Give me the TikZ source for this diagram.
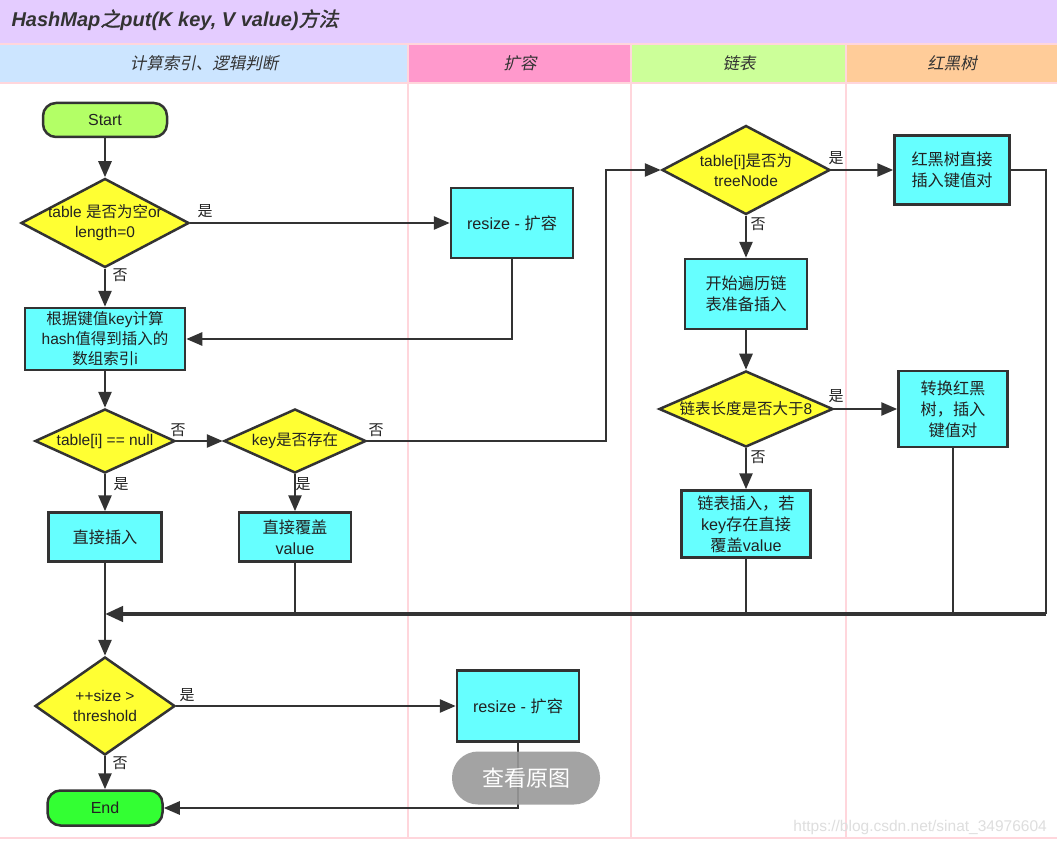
\documentclass[tikz,border=0pt]{standalone}
\usepackage{fontspec}
\usetikzlibrary{shapes.geometric,arrows.meta}
\setmainfont{Liberation Sans}
\newfontfamily\cjk{Noto Sans CJK SC}[BoldFont=*,BoldFeatures={FakeBold=1.5},ItalicFont=*,ItalicFeatures={FakeSlant=0.2},BoldItalicFont=*,BoldItalicFeatures={FakeSlant=0.2,FakeBold=1.5}]
\XeTeXinterchartokenstate=1
\newXeTeXintercharclass\CJKcls
\newcount\cjkc
\cjkc="4E00
\loop\XeTeXcharclass\cjkc=\CJKcls\advance\cjkc by 1\ifnum\cjkc<"A000\repeat
\cjkc="3000
\loop\XeTeXcharclass\cjkc=\CJKcls\advance\cjkc by 1\ifnum\cjkc<"3040\repeat
\cjkc="FF00
\loop\XeTeXcharclass\cjkc=\CJKcls\advance\cjkc by 1\ifnum\cjkc<"FFF0\repeat
\XeTeXinterchartoks 0 \CJKcls = {\begingroup\cjk}
\XeTeXinterchartoks 4095 \CJKcls = {\begingroup\cjk}
\XeTeXinterchartoks \CJKcls 0 = {\endgroup}
\XeTeXinterchartoks \CJKcls 4095 = {\endgroup}
\definecolor{titlebg}{HTML}{E4CCFF}
\definecolor{laneA}{HTML}{CCE5FF}
\definecolor{laneB}{HTML}{FF99CC}
\definecolor{laneC}{HTML}{CCFF99}
\definecolor{laneD}{HTML}{FFCC99}
\definecolor{lanel}{HTML}{FFD6DC}
\definecolor{ln}{HTML}{333333}
\definecolor{txt}{HTML}{222222}
\definecolor{cyanc}{HTML}{66FFFF}
\definecolor{yel}{HTML}{FFFF33}
\definecolor{startc}{HTML}{B3FF66}
\definecolor{endc}{HTML}{33FF33}
\tikzset{
  procbox/.style={draw=ln,line width=2.5pt,fill=cyanc,text=txt,align=center,inner sep=0pt,font=\fontsize{16.2}{21}\selectfont},
  termbox/.style={draw=ln,line width=2.5pt,rounded corners=13pt,text=txt,inner sep=0pt,font=\fontsize{16}{19}\selectfont},
  dia/.style={diamond,draw=ln,line width=2.5pt,fill=yel,inner sep=0pt},
  diatxt/.style={text=txt,align=center,inner sep=0pt,font=\fontsize{15.5}{20}\selectfont},
  conn/.style={draw=ln,line width=2.6pt,-{Triangle[length=16pt,width=13pt]}},
  feed/.style={draw=ln,line width=2.6pt},
  merge/.style={draw=ln,line width=4.2pt,-{Triangle[length=18pt,width=15pt]}},
  lbl/.style={text=txt,inner sep=0pt,font=\fontsize{15}{17}\selectfont},
  hdr/.style={text=ln,font=\fontsize{16.5}{19}\selectfont\itshape},
  laneline/.style={draw=lanel,line width=1.5pt}
}
\begin{document}
\begin{tikzpicture}[x=1pt,y=-1pt]
\path[use as bounding box] (0,0) rectangle (1057,845);
% backgrounds
\fill[white] (0,0) rectangle (1057,845);
\fill[titlebg] (0,0) rectangle (1057,44);
\fill[laneA] (0,44) rectangle (408,82);
\fill[laneB] (408,44) rectangle (631,82);
\fill[laneC] (631,44) rectangle (846,82);
\fill[laneD] (846,44) rectangle (1057,82);
\draw[laneline] (0,44) -- (1057,44);
\draw[laneline] (0,83) -- (1057,83);
\draw[laneline] (408,44) -- (408,838);
\draw[laneline] (631,44) -- (631,838);
\draw[laneline] (846,44) -- (846,838);
\draw[laneline] (0,838) -- (1057,838);
\node[anchor=west,text=ln,font=\fontsize{20}{24}\selectfont\bfseries\itshape] (title) at (8,20) {HashMap之put(K key, V value)方法};
\node[hdr] (h1) at (204,63) {计算索引、逻辑判断};
\node[hdr] (h2) at (520,63) {扩容};
\node[hdr] (h3) at (739,63) {链表};
\node[hdr] (h4) at (952,63) {红黑树};
% nodes
\node[termbox,fill=startc,minimum width=124pt,minimum height=34pt] (start) at (105,120) {Start};
\node[dia,minimum width=168pt,minimum height=89pt] (d1) at (105,223) {};
\node[diatxt] (d1t) at (d1.center) {table 是否为空or\\length=0};
\node[procbox,minimum width=122pt,minimum height=70pt] (rs1) at (512,223) {resize - 扩容};
\node[procbox,minimum width=160pt,minimum height=62pt,font=\fontsize{15.5}{20}\selectfont] (hash) at (105,339) {根据键值key计算\\hash值得到插入的\\数组索引i};
\node[dia,minimum width=140pt,minimum height=64pt] (d2) at (105,441) {};
\node[diatxt] (d2t) at (d2.center) {table[i] == null};
\node[dia,minimum width=142pt,minimum height=64pt] (d3) at (295,441) {};
\node[diatxt] (d3t) at (d3.center) {key是否存在};
\node[procbox,minimum width=113pt,minimum height=49pt] (zj) at (105,537) {直接插入};
\node[procbox,minimum width=112pt,minimum height=49pt] (fg) at (295,537) {直接覆盖\\value};
\node[dia,minimum width=140pt,minimum height=98pt] (d4) at (105,706) {};
\node[diatxt] (d4t) at (d4.center) {++size >\\threshold};
\node[procbox,minimum width=122pt,minimum height=71pt] (rs2) at (518,706) {resize - 扩容};
\node[termbox,fill=endc,minimum width=115pt,minimum height=35pt] (end) at (105,808) {End};
\node[dia,minimum width=168pt,minimum height=89pt] (d5) at (746,170) {};
\node[diatxt] (d5t) at (d5.center) {table[i]是否为\\treeNode};
\node[procbox,minimum width=122pt,minimum height=70pt] (bl) at (746,294) {开始遍历链\\表准备插入};
\node[dia,minimum width=174pt,minimum height=76pt] (d6) at (746,409) {};
\node[diatxt] (d6t) at (d6.center) {链表长度是否大于8};
\node[procbox,minimum width=129pt,minimum height=67pt] (lb) at (746,524) {链表插入，若\\key存在直接\\覆盖value};
\node[procbox,minimum width=115pt,minimum height=69pt] (hd) at (952,170) {红黑树直接\\插入键值对};
\node[procbox,minimum width=109pt,minimum height=76pt] (zh) at (953,409) {转换红黑\\树，插入\\键值对};
% helper coordinates
\coordinate (m) at (105,614);
\coordinate (c1) at (1046,614);
\coordinate (c2) at (606,441);
\coordinate (jz) at (953,614);
\coordinate (jl) at (746,614);
\coordinate (jf) at (295,614);
% connectors
\draw[conn] (start) -- (d1);
\draw[conn] (d1) -- (rs1);
\draw[conn] (d1) -- (hash);
\draw[conn] (rs1.south) |- (hash.east);
\draw[conn] (hash) -- (d2);
\draw[conn] (d2) -- (d3);
\draw[conn] (d2) -- (zj);
\draw[conn] (d3) -- (fg);
\draw[conn] (d3.east) -- (c2) |- (d5.west);
\draw[conn] (d5) -- (hd);
\draw[conn] (d5) -- (bl);
\draw[conn] (bl) -- (d6);
\draw[conn] (d6) -- (zh);
\draw[conn] (d6) -- (lb);
\draw[feed] (hd.east) -| (c1);
\draw[feed] (zh.south) -- (jz);
\draw[feed] (lb.south) -- (jl);
\draw[feed] (fg.south) -- (jf);
\draw[merge] (c1) -- (m);
\draw[conn] (zj) -- (d4);
\draw[conn] (d4) -- (rs2);
\draw[conn] (d4) -- (end);
\draw[conn] (rs2.south) |- (end.east);
% labels
\node[lbl] (l1) at (205,211) {是};
\node[lbl] (l2) at (120,275) {否};
\node[lbl] (l3) at (178,430) {否};
\node[lbl] (l4) at (121,484) {是};
\node[lbl] (l5) at (303,484) {是};
\node[lbl] (l6) at (376,430) {否};
\node[lbl] (l7) at (836,158) {是};
\node[lbl] (l8) at (758,224) {否};
\node[lbl] (l9) at (836,396) {是};
\node[lbl] (l10) at (758,457) {否};
\node[lbl] (l11) at (187,695) {是};
\node[lbl] (l12) at (120,763) {否};
% overlay button and watermark
\node[fill=black!40,fill opacity=0.9,text opacity=1,text=white,rounded corners=26pt,minimum width=148pt,minimum height=53pt,inner sep=0pt,font=\fontsize{22}{24}\selectfont] (btn) at (526,778) {查看原图};
\node[anchor=east,text=black!13,inner sep=0pt,font=\fontsize{15.5}{17}\selectfont] (url) at (1047,827) {https://blog.csdn.net/sinat\_34976604};
\end{tikzpicture}
\end{document}
